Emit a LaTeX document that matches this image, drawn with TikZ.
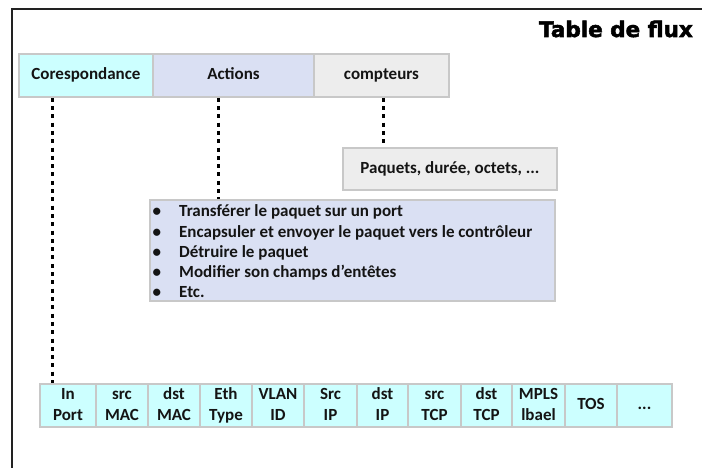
\documentclass[tikz,border=0pt]{standalone}
\usepackage{fontspec}
\setmainfont{Carlito}
\newfontfamily\titlefont{DejaVu Sans}[BoldFeatures={FakeBold=2.4}]
\definecolor{matchfill}{HTML}{CCFFFF}
\definecolor{actfill}{HTML}{DAE0F3}
\definecolor{cntfill}{HTML}{EDEDED}
\definecolor{boxline}{HTML}{C8C8C8}
\definecolor{ink}{HTML}{141414}
\definecolor{frameline}{HTML}{222222}
\tikzset{
  txt/.style={font=\fontsize{17}{21}\selectfont\bfseries, text=ink},
  cell/.style={txt, draw=boxline, line width=1.6pt, inner sep=0pt, minimum height=43pt},
  dots/.style={line width=3pt, dash pattern=on 4pt off 4.3pt, color=black},
}
\begin{document}
\begin{tikzpicture}[x=1pt, y=-1pt]
\useasboundingbox (0,0) rectangle (702,468);

% open frame: left side and top edge
\draw[line width=2pt, frameline] (12,468) -- (12,9) -- (702,9);
\node[anchor=base east, inner sep=0pt, text=black,
      font=\titlefont\bfseries\fontsize{21.5}{24}\selectfont] (title) at (693,37) {Table de flux};

% header of a flow entry
\node[cell, fill=matchfill, minimum width=134pt] (corr) at (86,75.5) {\strut Corespondance};
\node[cell, fill=actfill, minimum width=161pt] (act) at (233.5,75.5) {\strut Actions};
\node[cell, fill=cntfill, minimum width=135pt] (cpt) at (381.5,75.5) {\strut compteurs};

% counters
\node[cell, fill=cntfill, minimum width=214pt, minimum height=42pt] (paq) at (450,169) {\strut Paquets, durée, octets, ...};

% actions
\node[cell, fill=actfill, minimum width=405pt, minimum height=101pt] (list) at (352.5,250.5) {};
\foreach \t [count=\i] in {Transférer le paquet sur un port,
    Encapsuler et envoyer le paquet vers le contrôleur,
    Détruire le paquet,
    Modifier son champs d’entêtes,
    Etc.}
  \node[txt, anchor=base west, inner sep=0pt] (item\i) at (152.5,{217+20*(\i-1)})
    {\makebox[26.5pt][l]{\textbullet}\t};

% match fields
\foreach \l/\r/\t [count=\i] in {40/96/{\strut In\\\strut Port}, 96/148/{\strut src\\\strut MAC},
    148/200/{\strut dst\\\strut MAC}, 200/252/{\strut Eth\\\strut Type}, 252/304/{\strut VLAN\\\strut ID},
    304/357/{\strut Src\\\strut IP}, 357/408/{\strut dst\\\strut IP}, 408/461/{\strut src\\\strut TCP},
    461/512/{\strut dst\\\strut TCP}, 512/565/{\strut MPLS\\\strut lbael}, 565/617/{\strut TOS},
    617/672/{\strut ...}}
{
  \pgfmathsetmacro\w{\r-\l}
  \pgfmathsetmacro\cx{(\l+\r)/2}
  \node[cell, fill=matchfill, minimum width=\w pt, align=center] (f\i) at (\cx,405.5) {\t};
}

% dotted links
\coordinate (xm) at (52,0);
\coordinate (xa) at (218,0);
\coordinate (xc) at (383,0);
\draw[dots] (corr.south -| xm) -- (f1.north -| xm);
\draw[dots] (act.south -| xa) -- (list.north -| xa);
\draw[dots] (cpt.south -| xc) -- (paq.north -| xc);
\end{tikzpicture}
\end{document}
